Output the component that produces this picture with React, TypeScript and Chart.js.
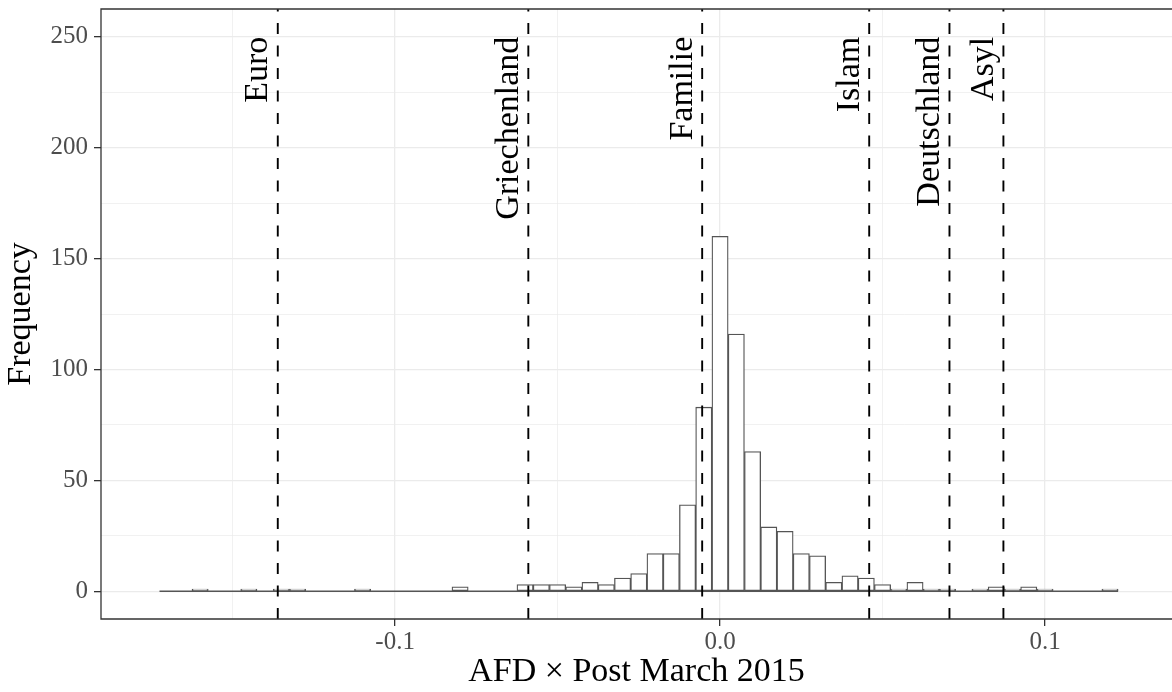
import React, { useEffect, useRef } from 'react';
import { Chart, registerables } from 'chart.js';

Chart.register(...registerables);

// Histogram bins (centers) and frequencies
const BIN_CENTERS = [
  -0.17, -0.165, -0.16, -0.155, -0.15, -0.145, -0.14, -0.135, -0.13, -0.125,
  -0.12, -0.115, -0.11, -0.105, -0.1, -0.095, -0.09, -0.085, -0.08, -0.075,
  -0.07, -0.065, -0.06, -0.055, -0.05, -0.045, -0.04, -0.035, -0.03, -0.025,
  -0.02, -0.015, -0.01, -0.005, 0.0, 0.005, 0.01, 0.015, 0.02, 0.025,
  0.03, 0.035, 0.04, 0.045, 0.05, 0.055, 0.06, 0.065, 0.07, 0.075,
  0.08, 0.085, 0.09, 0.095, 0.1, 0.105, 0.11, 0.115, 0.12,
];
const COUNTS = [
  0, 0, 1, 0, 0, 1, 0, 1, 1, 0,
  0, 0, 1, 0, 0, 0, 0, 0, 2, 0,
  0, 0, 3, 3, 3, 2, 4, 3, 6, 8,
  17, 17, 39, 83, 160, 116, 63, 29, 27, 17,
  16, 4, 7, 6, 3, 1, 4, 1, 1, 0,
  1, 2, 1, 2, 1, 0, 0, 0, 1,
];
const BIN_WIDTH = 0.005;

// Keyword reference lines
const KEYWORDS = ['Euro', 'Griechenland', 'Familie', 'Islam', 'Deutschland', 'Asyl'];
const KEYWORD_X = [-0.1361, -0.0590, -0.0055, 0.0459, 0.0706, 0.0872];
const LABEL_Y = 250;

// Axis ticks
const X_MAJOR = [-0.1, 0.0, 0.1];
const X_LABELS = ['-0.1', '0.0', '0.1'];
const X_MINOR = [-0.15, -0.05, 0.05];
const Y_MAJOR = [0, 50, 100, 150, 200, 250];
const Y_LABELS = ['0', '50', '100', '150', '200', '250'];
const Y_MINOR = [25, 75, 125, 175, 225];

const X_TITLE = 'AFD × Post March 2015';
const Y_TITLE = 'Frequency';

const SERIF = '"Liberation Serif", "DejaVu Serif", serif';

const findIdx = (arr: number[], v: number) => arr.findIndex((a) => Math.abs(a - v) < 1e-9);

const overlayPlugin = {
  id: 'overlay',
  afterDatasetsDraw(chart: any) {
    const { ctx, chartArea: a, scales } = chart;
    const x = scales.x;
    const y = scales.y;
    ctx.save();
    ctx.beginPath();
    ctx.rect(a.left, a.top, a.right - a.left, a.bottom - a.top);
    ctx.clip();
    ctx.strokeStyle = '#000000';
    ctx.lineWidth = 1.9;
    ctx.setLineDash([11, 11.5]);
    KEYWORD_X.forEach((v) => {
      const px = x.getPixelForValue(v);
      ctx.beginPath();
      ctx.moveTo(px, a.bottom);
      ctx.lineTo(px, a.top);
      ctx.stroke();
    });
    ctx.setLineDash([]);
    ctx.fillStyle = '#000000';
    ctx.font = `34px ${SERIF}`;
    ctx.textAlign = 'right';
    ctx.textBaseline = 'alphabetic';
    KEYWORDS.forEach((t, i) => {
      const px = x.getPixelForValue(KEYWORD_X[i]) - 10.5;
      const py = y.getPixelForValue(LABEL_Y);
      ctx.save();
      ctx.translate(px, py);
      ctx.rotate(-Math.PI / 2);
      ctx.fillText(t, 0, 0);
      ctx.restore();
    });
    ctx.restore();

    ctx.save();
    ctx.strokeStyle = '#333333';
    ctx.lineWidth = 1.3;
    ctx.beginPath();
    ctx.moveTo(a.right + 5, a.top);
    ctx.lineTo(a.left, a.top);
    ctx.lineTo(a.left, a.bottom);
    ctx.lineTo(a.right + 5, a.bottom);
    ctx.stroke();
    ctx.restore();
  },
};

export default function App() {
  const ref = useRef<HTMLCanvasElement | null>(null);

  useEffect(() => {
    document.body.style.margin = '0';
    const canvas = ref.current;
    if (!canvas) return;

    const bars = BIN_CENTERS.map((c, i) => ({ x: c, y: COUNTS[i] }));
    const baseline = [
      { x: BIN_CENTERS[0] - BIN_WIDTH / 2, y: 0 },
      { x: BIN_CENTERS[BIN_CENTERS.length - 1] + BIN_WIDTH / 2, y: 0 },
    ];

    const chart = new Chart(canvas, {
      type: 'bar',
      data: {
        datasets: [
          {
            type: 'line',
            data: baseline,
            borderColor: '#555555',
            borderWidth: 1.4,
            pointRadius: 0,
            fill: false,
          } as any,
          {
            type: 'bar',
            data: bars,
            backgroundColor: '#ffffff',
            borderColor: '#555555',
            borderWidth: 1.3,
            borderSkipped: false,
            barPercentage: 1,
            categoryPercentage: 1,
          } as any,
        ],
      },
      options: {
        responsive: false,
        animation: false,
        devicePixelRatio: 1,
        layout: { padding: { left: 0, right: 0, top: 9, bottom: 0 } },
        plugins: {
          legend: { display: false },
          tooltip: { enabled: false },
          title: { display: false },
        },
        scales: {
          x: {
            type: 'linear',
            offset: false,
            min: -0.1905,
            max: 0.13908,
            afterBuildTicks: (scale: any) => {
              scale.ticks = [...X_MAJOR, ...X_MINOR].sort((p, q) => p - q).map((v) => ({ value: v }));
            },
            afterFit: (scale: any) => {
              scale.height = 73;
              scale.paddingLeft = 0;
              scale.paddingRight = 0;
            },
            grid: {
              offset: false,
              color: '#EBEBEB',
              lineWidth: (ctx: any) => (findIdx(X_MAJOR, ctx.tick?.value) >= 0 ? 1.3 : 0.7),
              tickColor: (ctx: any) => (findIdx(X_MAJOR, ctx.tick?.value) >= 0 ? '#333333' : 'rgba(0,0,0,0)'),
              tickLength: 7,
              tickWidth: 1.3,
              drawTicks: true,
            },
            border: { display: false },
            ticks: {
              autoSkip: false,
              maxRotation: 0,
              minRotation: 0,
              padding: 1,
              color: '#4D4D4D',
              font: { family: SERIF, size: 25 },
              callback: (value: any) => {
                const i = findIdx(X_MAJOR, Number(value));
                return i >= 0 ? X_LABELS[i] : '';
              },
            },
            title: {
              display: true,
              text: X_TITLE,
              color: '#000000',
              font: { family: SERIF, size: 34 },
              padding: { top: 0, bottom: 0 },
            },
          },
          y: {
            type: 'linear',
            min: -12.5,
            max: 262.5,
            afterBuildTicks: (scale: any) => {
              scale.ticks = [...Y_MAJOR, ...Y_MINOR].sort((p, q) => p - q).map((v) => ({ value: v }));
            },
            afterFit: (scale: any) => {
              scale.width = 101;
              scale.paddingTop = 0;
              scale.paddingBottom = 0;
            },
            grid: {
              color: '#EBEBEB',
              lineWidth: (ctx: any) => (findIdx(Y_MAJOR, ctx.tick?.value) >= 0 ? 1.3 : 0.7),
              tickColor: (ctx: any) => (findIdx(Y_MAJOR, ctx.tick?.value) >= 0 ? '#333333' : 'rgba(0,0,0,0)'),
              tickLength: 7,
              tickWidth: 1.3,
              drawTicks: true,
            },
            border: { display: false },
            ticks: {
              autoSkip: false,
              padding: 6,
              color: '#4D4D4D',
              font: { family: SERIF, size: 25 },
              callback: (value: any) => {
                const i = findIdx(Y_MAJOR, Number(value));
                return i >= 0 ? Y_LABELS[i] : '';
              },
            },
            title: {
              display: true,
              text: Y_TITLE,
              color: '#000000',
              font: { family: SERIF, size: 34 },
              padding: { top: 1, bottom: 0 },
            },
          },
        },
      },
      plugins: [overlayPlugin],
    });

    return () => {
      chart.destroy();
    };
  }, []);

  return (
    <div style={{ width: 1172, height: 692, position: 'relative' }}>
      <canvas ref={ref} width={1172} height={692} style={{ display: 'block' }} />
    </div>
  );
}
